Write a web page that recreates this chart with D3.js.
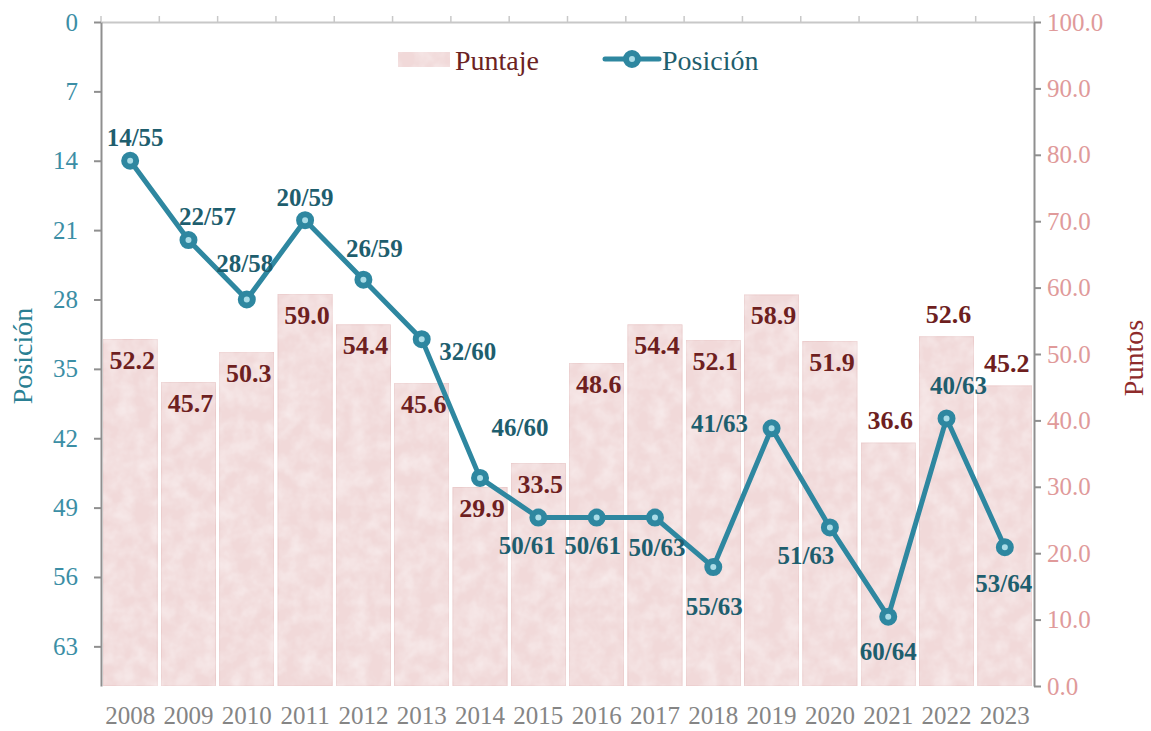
<!DOCTYPE html>
<html>
<head>
<meta charset="utf-8">
<script src="https://cdn.jsdelivr.net/npm/d3@7"></script>
<style>
  body { margin: 0; background: #fff; }
  svg text { font-family: "Liberation Serif", "Times New Roman", serif; }
</style>
</head>
<body>
<div id="chart"></div>
<script>
// data
var years = ["2008","2009","2010","2011","2012","2013","2014","2015","2016","2017","2018","2019","2020","2021","2022","2023"];
var puntaje = [52.2, 45.7, 50.3, 59.0, 54.4, 45.6, 29.9, 33.5, 48.6, 54.4, 52.1, 58.9, 51.9, 36.6, 52.6, 45.2];
var posicion = [14, 22, 28, 20, 26, 32, 46, 50, 50, 50, 55, 41, 51, 60, 40, 53];
var totales = [55, 57, 58, 59, 59, 60, 60, 61, 61, 63, 63, 63, 63, 64, 63, 64];
var posTicks = [0, 7, 14, 21, 28, 35, 42, 49, 56, 63];
var ptsTicks = [0, 10, 20, 30, 40, 50, 60, 70, 80, 90, 100];

// label nudges (px) so the labels sit where the original put them
var posLabelShift = [[5,-23],[19,-24],[-2,-36],[0,-23],[11,-31],[46,12],[40,-50],[-11,28],
                     [-4,28],[2,30],[1,39],[-52,-5],[-24,28],[0,35],[12,-33],[-1,36]];
var scoreAbove = ["2021","2022","2023"];

var width = 1151, height = 731;
var margin = {top: 22, right: 117, bottom: 45, left: 101};
var plotW = width - margin.left - margin.right;
var plotH = height - margin.top - margin.bottom;

var svg = d3.select("#chart").append("svg")
    .attr("width", width)
    .attr("height", height);

// soft mottled texture for the bars
var defs = svg.append("defs");
var f = defs.append("filter").attr("id", "mottle").attr("x", 0).attr("y", 0).attr("width", 1).attr("height", 1);
f.append("feTurbulence").attr("type", "fractalNoise").attr("baseFrequency", 0.06).attr("numOctaves", 3).attr("seed", 4).attr("result", "noise");
f.append("feColorMatrix").attr("in", "noise").attr("type", "matrix")
    .attr("values", "0 0 0 0 1  0 0 0 0 1  0 0 0 0 1  0.7 0 0 0 -0.22").attr("result", "light");
f.append("feComposite").attr("in", "light").attr("in2", "SourceGraphic").attr("operator", "in").attr("result", "lightc");
var fm = f.append("feMerge");
fm.append("feMergeNode").attr("in", "SourceGraphic");
fm.append("feMergeNode").attr("in", "lightc");

var g = svg.append("g").attr("transform", `translate(${margin.left}, ${margin.top})`);

var x = d3.scaleBand().domain(years).range([0, plotW]).paddingInner(0.07).paddingOuter(0.035);
var yPos = d3.scaleLinear().domain([0, 67]).range([0, plotH]);
var yPts = d3.scaleLinear().domain([0, 100]).range([plotH, 0]);

// bars
g.selectAll("rect.bar")
  .data(puntaje)
  .enter().append("rect")
    .attr("class", "bar")
    .attr("x", (d, i) => x(years[i]))
    .attr("y", d => yPts(d))
    .attr("width", x.bandwidth())
    .attr("height", d => plotH - yPts(d))
    .attr("fill", "#f1d9d9")
    .attr("stroke", "#e8c4c4")
    .attr("stroke-width", 0.8)
    .attr("filter", "url(#mottle)");

// top axis (ticks only)
var topAxis = d3.axisTop(x).tickSize(0).tickFormat("");
var topG = g.append("g").call(topAxis);
topG.select(".domain").attr("stroke", "#c8c8c8").attr("stroke-width", 2);
g.append("g").selectAll("line")
  .data(d3.range(years.length + 1))
  .enter().append("line")
    .attr("x1", i => i === 0 ? 0 : x(years[i - 1]) + x.step() - x.step() * 0.035)
    .attr("x2", i => i === 0 ? 0 : x(years[i - 1]) + x.step() - x.step() * 0.035)
    .attr("y1", 0).attr("y2", -6)
    .attr("stroke", "#c8c8c8").attr("stroke-width", 1.5);

// left axis
var leftG = g.append("g").call(d3.axisLeft(yPos).tickValues(posTicks).tickSize(7).tickSizeOuter(0).tickPadding(16));
leftG.select(".domain").attr("stroke", "#8f8f8f").attr("stroke-width", 2);
leftG.selectAll(".tick line").attr("stroke", "#8f8f8f").attr("stroke-width", 2);
leftG.selectAll(".tick text").attr("fill", "#3b8ea5").attr("font-size", 25);

// right axis
var rightG = g.append("g").attr("transform", `translate(${plotW}, 0)`)
    .call(d3.axisRight(yPts).tickValues(ptsTicks).tickFormat(d3.format(".1f")).tickSize(7).tickSizeOuter(0).tickPadding(6));
rightG.select(".domain").attr("stroke", "#8f8f8f").attr("stroke-width", 2);
rightG.selectAll(".tick line").attr("stroke", "#8f8f8f").attr("stroke-width", 2);
rightG.selectAll(".tick text").attr("fill", "#e09a9a").attr("font-size", 25);

// year labels
var botG = g.append("g").attr("transform", `translate(0, ${plotH})`)
    .call(d3.axisBottom(x).tickSize(0).tickPadding(20));
botG.select(".domain").remove();
botG.selectAll(".tick text").attr("fill", "#858585").attr("font-size", 25);

// axis titles
svg.append("text")
    .attr("transform", "translate(22, 356) rotate(-90)")
    .attr("text-anchor", "middle").attr("dominant-baseline", "central")
    .attr("font-size", 28).attr("fill", "#2a7f93")
    .text("Posición");
svg.append("text")
    .attr("transform", "translate(1133, 358) rotate(-90)")
    .attr("text-anchor", "middle").attr("dominant-baseline", "central")
    .attr("font-size", 28).attr("fill", "#8e2b2b")
    .text("Puntos");

// score labels
g.selectAll("text.score")
  .data(puntaje)
  .enter().append("text")
    .attr("class", "score")
    .attr("x", (d, i) => x(years[i]) + x.bandwidth() / 2 + 2)
    .attr("y", (d, i) => yPts(d) + (scoreAbove.includes(years[i]) ? -22 : 21))
    .attr("text-anchor", "middle").attr("dominant-baseline", "central")
    .attr("font-size", 26).attr("font-weight", "bold").attr("fill", "#6e1f1f")
    .text(d => d.toFixed(1));

// line
var line = d3.line()
    .x((d, i) => x(years[i]) + x.bandwidth() / 2)
    .y(d => yPos(d));
g.append("path")
    .datum(posicion)
    .attr("d", line)
    .attr("fill", "none")
    .attr("stroke", "#2e87a0")
    .attr("stroke-width", 5)
    .attr("stroke-linejoin", "round");

g.selectAll("circle.pt")
  .data(posicion)
  .enter().append("circle")
    .attr("class", "pt")
    .attr("cx", (d, i) => x(years[i]) + x.bandwidth() / 2)
    .attr("cy", d => yPos(d))
    .attr("r", 6)
    .attr("fill", "#a9dce7")
    .attr("stroke", "#2e87a0")
    .attr("stroke-width", 6);

// position labels
g.selectAll("text.pos")
  .data(posicion)
  .enter().append("text")
    .attr("class", "pos")
    .attr("x", (d, i) => x(years[i]) + x.bandwidth() / 2 + posLabelShift[i][0])
    .attr("y", (d, i) => yPos(d) + posLabelShift[i][1])
    .attr("text-anchor", "middle").attr("dominant-baseline", "central")
    .attr("font-size", 25).attr("font-weight", "bold").attr("fill", "#1e5e6e")
    .text((d, i) => d + "/" + totales[i]);

// legend
var leg = svg.append("g");
leg.append("rect")
    .attr("x", 398).attr("y", 52).attr("width", 52).attr("height", 15)
    .attr("fill", "#f1d9d9").attr("filter", "url(#mottle)");
leg.append("text")
    .attr("x", 455).attr("y", 60).attr("dominant-baseline", "central")
    .attr("font-size", 28).attr("fill", "#6b2222")
    .text("Puntaje");
leg.append("line")
    .attr("x1", 605).attr("x2", 659).attr("y1", 59).attr("y2", 59)
    .attr("stroke", "#2e87a0").attr("stroke-width", 5).attr("stroke-linecap", "round");
leg.append("circle")
    .attr("cx", 632).attr("cy", 59).attr("r", 6)
    .attr("fill", "#a9dce7").attr("stroke", "#2e87a0").attr("stroke-width", 6);
leg.append("text")
    .attr("x", 662).attr("y", 60).attr("dominant-baseline", "central")
    .attr("font-size", 28).attr("fill", "#1f5e6d")
    .text("Posición");
</script>
</body>
</html>
